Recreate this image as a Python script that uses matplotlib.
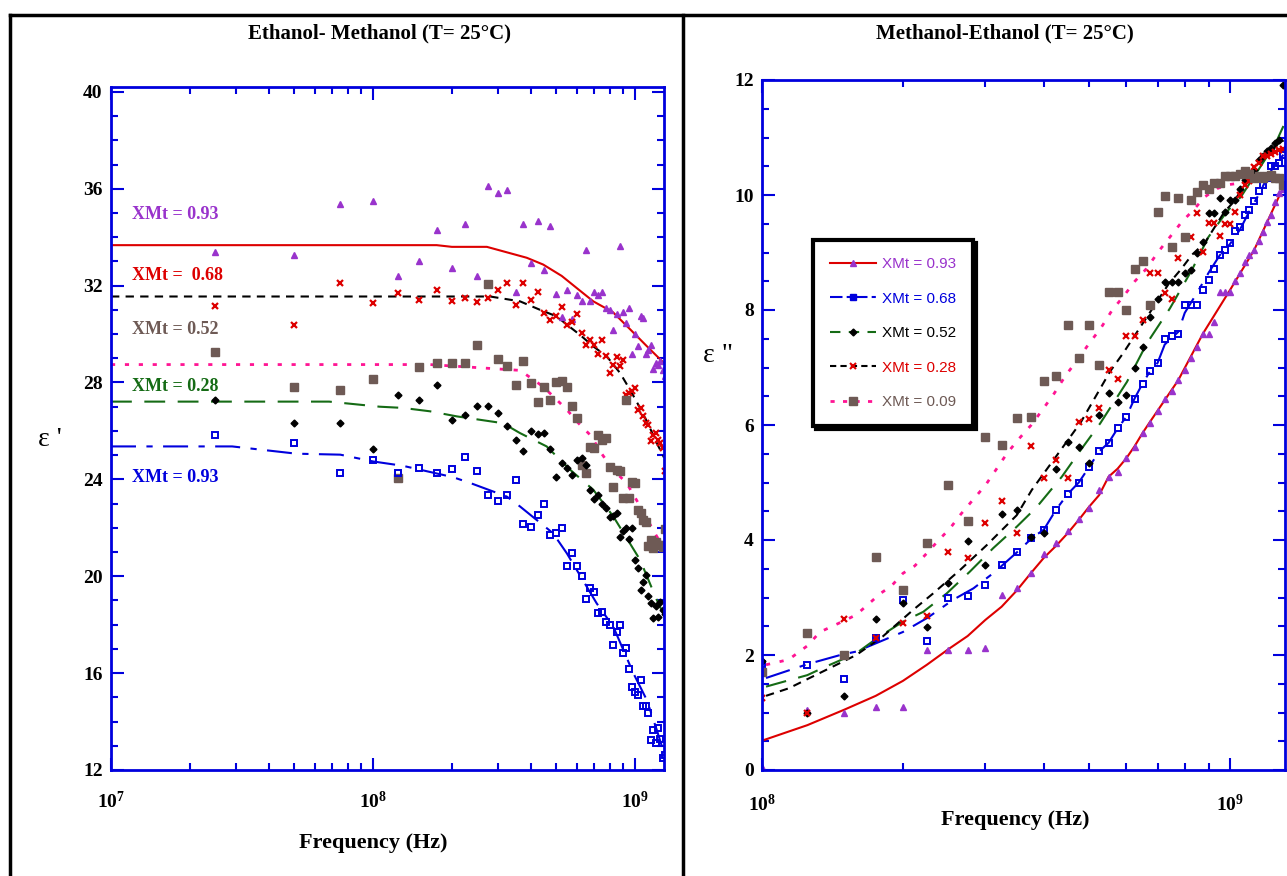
import matplotlib
matplotlib.use('Agg')
import matplotlib.pyplot as plt
import numpy as np
from matplotlib.lines import Line2D
from matplotlib.ticker import LogLocator, MultipleLocator, NullFormatter

plt.rcParams['font.family'] = ['Liberation Serif', 'DejaVu Serif']
plt.rcParams['mathtext.fontset'] = 'custom'
plt.rcParams['mathtext.rm'] = 'Liberation Serif:bold'
plt.rcParams['mathtext.bf'] = 'Liberation Serif:bold'
plt.rcParams['mathtext.default'] = 'bf'

# ---------------- dados: painel da esquerda (eps') ----------------
freq_esq = [25, 50, 75, 100, 125, 150, 175, 200, 225, 250, 275, 300, 325, 350, 375, 400,
            425, 450, 475, 500, 525, 550, 575, 600, 625, 650, 675, 700, 725, 750, 775, 800,
            825, 850, 875, 900, 925, 950, 975, 1000, 1025, 1050, 1075, 1100, 1125, 1150,
            1175, 1200, 1225, 1250, 1275, 1300]  # MHz

esq_093 = [33.39, 33.28, 35.38, 35.48, 32.38, 33.0, 34.29, 32.73, 34.56, 32.38, 36.1, 35.83,
           35.93, 31.74, 34.56, 32.94, 34.66, 32.63, 34.48, 31.65, 30.7, 31.82, 30.62, 31.63,
           31.37, 33.46, 31.37, 31.74, 31.63, 31.74, 31.06, 31.0, 30.18, 30.81, 33.65, 30.91,
           30.46, 31.09, 29.18, 30.0, 29.49, 30.76, 30.65, 29.18, 29.36, 29.53, 28.56, 28.8,
           28.74, 28.87, 28.5, 28.25]
esq_068 = [31.17, 30.36, 32.11, 31.28, 31.7, 31.39, 31.83, 31.38, 31.49, 31.31, 31.49, 31.83,
           32.11, 31.21, 32.11, 31.39, 31.74, 30.87, 30.57, 30.76, 31.1, 30.39, 30.48, 30.83,
           30.04, 29.56, 29.77, 29.56, 29.19, 29.77, 29.1, 28.39, 28.74, 29.06, 28.67, 28.92,
           27.5, 27.57, 27.64, 27.77, 26.88, 26.95, 26.6, 26.32, 26.26, 25.57, 25.84, 25.91,
           25.64, 25.52, 25.3, 24.36]
esq_052 = [29.24, 27.81, 27.70, 28.16, 24.07, 28.64, 28.8, 28.8, 28.8, 29.53, 32.08, 28.99,
           28.70, 27.89, 28.90, 27.98, 27.18, 27.81, 27.26, 28.0, 28.07, 27.81, 27.01, 26.53,
           24.6, 24.26, 25.35, 25.29, 25.84, 25.64, 25.7, 24.5, 23.68, 24.40, 24.33, 23.25,
           27.29, 23.25, 23.91, 23.87, 22.74, 22.63, 22.33, 22.26, 21.23, 21.5, 21.15, 21.42,
           21.3, 21.3, 21.2, 21.94]
esq_028 = [27.29, 26.32, 26.32, 25.26, 27.5, 27.26, 27.91, 26.46, 26.67, 27.01, 27.01, 26.74,
           26.19, 25.64, 25.19, 25.98, 25.88, 25.91, 25.25, 24.10, 24.67, 24.46, 24.19, 24.81,
           24.9, 24.60, 23.57, 23.19, 23.36, 23.0, 22.81, 22.44, 22.5, 22.63, 21.64, 21.88,
           22.01, 21.53, 22.01, 20.68, 20.33, 19.44, 19.78, 20.06, 19.2, 18.9, 18.27, 18.78,
           18.31, 18.95, 18.6, 18.45]
esq_009 = [25.84, 25.5, 24.26, 24.81, 24.26, 24.46, 24.26, 24.42, 24.92, 24.36, 23.36, 23.09,
           23.36, 23.98, 22.15, 22.05, 22.54, 22.99, 21.71, 21.78, 21.98, 20.43, 20.95, 20.43,
           20.0, 19.07, 19.51, 19.33, 18.47, 18.54, 18.12, 17.99, 17.17, 17.71, 17.99, 16.85,
           17.02, 16.16, 15.44, 15.23, 15.10, 15.72, 14.64, 14.64, 14.34, 13.24, 13.65, 13.13,
           13.72, 13.3, 12.48, 12.62]

# curvas ajustadas (MHz, valor)
aj_esq_093_f = [10, 175, 200, 272, 386, 446, 525, 599, 693, 824, 957, 1109, 1290]
aj_esq_093_v = [33.67, 33.67, 33.6, 33.6, 33.15, 32.87, 32.4, 31.9, 31.35, 30.9, 30.2, 29.5, 28.8]
aj_esq_068_f = [10, 280, 364, 434, 502, 549, 616, 693, 780, 877, 957, 1045, 1125, 1211, 1290]
aj_esq_068_v = [31.55, 31.55, 31.35, 31.0, 30.73, 30.39, 29.97, 29.49, 29.08, 28.39, 27.7,
                26.95, 26.26, 25.5, 24.9]
aj_esq_052_f = [10, 165, 364, 446, 549, 606, 679, 746, 824, 929, 1015, 1211, 1290]
aj_esq_052_v = [28.74, 28.74, 28.5, 27.83, 26.88, 26.34, 25.8, 25.06, 24.4, 23.85, 23.13, 21.64, 21.2]
aj_esq_028_f = [10, 68, 106, 130, 165, 209, 256, 313, 364, 460, 565, 693, 826, 1045, 1211, 1290]
aj_esq_028_v = [27.21, 27.21, 27.0, 26.95, 26.81, 26.6, 26.46, 26.32, 25.91, 25.36, 24.4,
                23.57, 22.47, 20.68, 19.02, 18.4]
aj_esq_009_f = [10, 29, 51, 75, 100, 130, 202, 235, 324, 364, 486, 549, 714, 826, 986, 1109,
                1211, 1290]
aj_esq_009_v = [25.36, 25.36, 25.06, 25.02, 24.74, 24.56, 24.09, 23.85, 23.29, 22.88, 21.78,
                20.95, 18.88, 17.92, 15.99, 14.89, 13.65, 12.7]

# ---------------- dados: painel da direita (eps'') ----------------
freq_dir = [100, 125, 150, 175, 200, 225, 250, 275, 300, 325, 350, 375, 400, 425, 450, 475,
            500, 525, 550, 575, 600, 625, 650, 675, 700, 725, 750, 775, 800, 825, 850, 875,
            900, 925, 950, 975, 1000, 1025, 1050, 1075, 1100, 1125, 1150, 1175, 1200, 1225,
            1250, 1275, 1300]  # MHz

dir_093 = [0.06, 1.04, 1.0, 1.09, 1.09, 2.09, 2.09, 2.09, 2.13, 3.04, 3.16, 3.43, 3.75, 3.95,
           4.15, 4.37, 4.56, 4.87, 5.10, 5.19, 5.42, 5.61, 5.86, 6.03, 6.25, 6.45, 6.6, 6.78,
           6.96, 7.16, 7.35, 7.59, 7.59, 7.8, 8.32, 8.32, 8.32, 8.5, 8.64, 8.84, 8.95, 9.04,
           9.2, 9.36, 9.53, 9.65, 9.87, 10.03, 10.1]
dir_068 = [1.85, 1.83, 1.59, 2.29, 2.96, 2.25, 2.99, 3.03, 3.22, 3.57, 3.80, 4.04, 4.18, 4.53,
           4.80, 5.0, 5.27, 5.54, 5.69, 5.94, 6.14, 6.46, 6.72, 6.94, 7.08, 7.49, 7.54, 7.59,
           8.09, 8.09, 8.09, 8.35, 8.52, 8.71, 8.96, 9.04, 9.17, 9.37, 9.45, 9.65, 9.74, 9.90,
           10.07, 10.17, 10.3, 10.50, 10.5, 10.56, 10.7]
dir_052 = [1.9, 1.0, 1.29, 2.63, 2.91, 2.48, 3.25, 3.99, 3.57, 4.45, 4.52, 4.05, 4.12, 5.23,
           5.71, 5.62, 5.34, 6.17, 6.55, 6.4, 6.52, 7.0, 7.36, 7.87, 8.2, 8.49, 8.48, 8.49,
           8.64, 8.70, 9.0, 9.19, 9.68, 9.68, 9.95, 9.71, 9.91, 9.92, 10.1, 10.26, 10.35, 10.43,
           10.61, 10.67, 10.77, 10.81, 10.90, 10.95, 11.92]
dir_028 = [1.25, 1.0, 2.62, 2.29, 2.55, 2.67, 3.80, 3.68, 4.30, 4.68, 4.12, 5.63, 5.07, 5.39,
           5.07, 6.06, 6.1, 6.3, 6.95, 6.8, 7.55, 7.55, 7.83, 8.64, 8.64, 8.3, 8.2, 8.9, 9.27,
           9.27, 9.68, 9.01, 9.52, 9.52, 9.29, 9.49, 9.49, 9.71, 10.0, 10.17, 10.25, 10.49,
           10.55, 10.67, 10.67, 10.72, 10.75, 10.78, 10.8]
dir_009 = [1.70, 2.39, 2.0, 3.71, 3.13, 3.94, 4.95, 4.33, 5.80, 5.65, 6.12, 6.14, 6.77, 6.85,
           7.74, 7.16, 7.74, 7.04, 8.32, 8.32, 8.0, 8.71, 8.86, 8.09, 9.71, 9.98, 9.09, 9.94,
           9.27, 9.91, 10.06, 10.17, 10.10, 10.21, 10.21, 10.33, 10.33, 10.33, 10.37, 10.42,
           10.37, 10.29, 10.33, 10.29, 10.33, 10.35, 10.29, 10.29, 10.17]

aj_dir_093_f = [100, 125, 150, 175, 200, 225, 250, 275, 300, 325, 350, 375, 400, 425, 450, 475,
                500, 525, 550, 575, 600, 625, 650, 675, 775, 875, 1000, 1125, 1300]
aj_dir_093_v = [0.51, 0.78, 1.05, 1.29, 1.55, 1.83, 2.10, 2.33, 2.61, 2.84, 3.12, 3.42, 3.69,
                3.90, 4.12, 4.35, 4.58, 4.78, 5.10, 5.24, 5.42, 5.63, 5.86, 6.06, 6.78, 7.59,
                8.35, 9.04, 10.14]
aj_dir_068_f = [102, 125, 147, 159, 200, 226, 256, 283, 315, 352, 378, 400, 425, 450, 475, 500,
                525, 550, 575, 600, 625, 650, 675, 700, 725, 775, 800, 850, 900, 950, 1000,
                1050, 1100, 1150, 1200, 1250, 1300]
aj_dir_068_v = [1.6, 1.84, 2.0, 2.06, 2.40, 2.65, 2.96, 3.16, 3.45, 3.80, 4.04, 4.18, 4.53,
                4.80, 5.0, 5.27, 5.54, 5.69, 5.94, 6.14, 6.46, 6.72, 6.94, 7.08, 7.4, 7.62, 7.95,
                8.3, 8.65, 8.95, 9.15, 9.4, 9.72, 10.0, 10.3, 10.55, 10.7]
aj_dir_052_f = [102, 125, 137, 152, 159, 176, 200, 221, 248, 278, 312, 350, 386, 437, 482,
                528, 602, 664, 744, 829, 899, 984, 1055, 1251, 1300]
aj_dir_052_v = [1.45, 1.65, 1.80, 1.96, 2.03, 2.29, 2.58, 2.75, 3.07, 3.45, 3.86, 4.23, 4.57,
                5.10, 5.59, 6.03, 6.75, 7.42, 8.03, 8.70, 9.27, 9.71, 9.97, 10.9, 11.2]
aj_dir_028_f = [102, 114, 137, 159, 181, 210, 232, 265, 302, 350, 377, 422, 480, 554, 591,
                740, 784, 829, 883, 973, 1018, 1067, 1128, 1190, 1232, 1300]
aj_dir_028_v = [1.29, 1.42, 1.74, 2.0, 2.32, 2.78, 3.07, 3.48, 3.91, 4.43, 4.87, 5.42, 6.05,
                6.93, 7.25, 8.46, 8.70, 8.96, 9.17, 9.71, 9.88, 10.14, 10.49, 10.70, 10.8, 10.95]
aj_dir_009_f = [102, 114, 125, 133, 152, 159, 168, 179, 189, 200, 212, 225, 238, 252, 266, 283,
                300, 316, 334, 353, 376, 397, 421, 446, 473, 500, 529, 560, 591, 626, 663, 702,
                744, 788, 835, 884, 937, 991, 1300]
aj_dir_009_v = [1.83, 1.92, 2.16, 2.4, 2.62, 2.70, 2.87, 3.07, 3.20, 3.42, 3.55, 3.77, 3.99,
                4.20, 4.45, 4.71, 4.95, 5.22, 5.51, 5.75, 6.0, 6.26, 6.55, 6.87, 7.14, 7.42,
                7.68, 8.0, 8.23, 8.50, 8.72, 9.01, 9.27, 9.53, 9.74, 9.97, 10.11, 10.18, 10.3]

# cores
roxo = '#9933CC'
vermelho = '#DD0000'
marrom = '#6E5A55'
verde = '#156B15'
azul = '#0000DD'
rosa = '#FF1493'
preto = 'black'


def hz(lista):
    return np.array(lista) * 1e6


def estilo(ax, xlim, ylim, ymaior, ymenor, pad_x, decadas):
    ax.set_xscale('log')
    ax.set_xlim(*xlim)
    ax.set_ylim(*ylim)
    for s in ax.spines.values():
        s.set_color(azul)
        s.set_linewidth(2)
    ax.tick_params(which='both', direction='in', color=azul, top=True, right=True, width=1.5)
    ax.tick_params(which='major', length=9, labelsize=14)
    ax.tick_params(which='minor', length=5)
    ax.tick_params(axis='x', which='major', pad=pad_x)
    ax.tick_params(axis='y', which='major', pad=6)
    ax.yaxis.set_major_locator(MultipleLocator(ymaior))
    ax.yaxis.set_minor_locator(MultipleLocator(ymenor))
    ax.set_xticks([10.0 ** d for d in decadas],
                  labels=[r'$\mathbf{10^{%d}}$' % d for d in decadas])
    ax.xaxis.set_minor_locator(LogLocator(base=10, subs=np.arange(2, 10)))
    ax.xaxis.set_minor_formatter(NullFormatter())
    for t in ax.get_yticklabels():
        t.set_fontweight('bold')


fig = plt.figure(figsize=(12.87, 8.76), dpi=100)

# moldura externa
for (x0, y0, x1, y1) in [(10, 15, 1287, 15), (10, 15, 10, 876), (683, 15, 683, 876)]:
    fig.add_artist(Line2D([x0 / 1287, x1 / 1287], [1 - y0 / 876, 1 - y1 / 876],
                          color='black', lw=2.5))

# ---------------- painel esquerdo ----------------
ax1 = fig.add_axes([111 / 1287, 1 - 770 / 876, 553 / 1287, 683 / 876])

ax1.plot(hz(aj_esq_093_f), aj_esq_093_v, color=vermelho, lw=1.5, ls='-')
ax1.plot(hz(aj_esq_068_f), aj_esq_068_v, color=preto, lw=1.5, ls=(0, (4, 3)))
ax1.plot(hz(aj_esq_052_f), aj_esq_052_v, color=rosa, lw=2, ls=(0, (1.5, 3.5)))
ax1.plot(hz(aj_esq_028_f), aj_esq_028_v, color=verde, lw=1.5, ls=(0, (10, 6)))
ax1.plot(hz(aj_esq_009_f), aj_esq_009_v, color=azul, lw=1.5, ls=(0, (12, 5, 3, 5)))

ax1.plot(hz(freq_esq), esq_093, ls='none', marker='^', ms=5, color=roxo)
ax1.plot(hz(freq_esq), esq_068, ls='none', marker='x', ms=5, mew=1.6, color=vermelho)
ax1.plot(hz(freq_esq), esq_052, ls='none', marker='s', ms=6, color=marrom)
ax1.plot(hz(freq_esq), esq_028, ls='none', marker='D', ms=3.5, color=preto)
ax1.plot(hz(freq_esq), esq_009, ls='none', marker='s', ms=5, mfc='none', mew=1.4, color=azul)

estilo(ax1, (1e7, 1.29e9), (12, 40.2), 4, 1, 15, [7, 8, 9])

rotulos = [('XMt = 0.93', 34.93, roxo), ('XMt =  0.68', 32.41, vermelho),
           ('XMt = 0.52', 30.18, marrom), ('XMt = 0.28', 27.83, verde),
           ('XMt = 0.93', 24.07, azul)]
for texto, yv, cor in rotulos:
    ax1.text(1.2e7, yv, texto, color=cor, fontsize=13, fontweight='bold', ha='left', va='center')

# ---------------- painel direito ----------------
ax2 = fig.add_axes([762 / 1287, 1 - 770 / 876, 523 / 1287, 690 / 876])

ax2.plot(hz(aj_dir_093_f), aj_dir_093_v, color=vermelho, lw=1.5, ls='-')
ax2.plot(hz(aj_dir_068_f), aj_dir_068_v, color=azul, lw=1.5, ls=(0, (12, 5, 3, 5)))
ax2.plot(hz(aj_dir_052_f), aj_dir_052_v, color=verde, lw=1.5, ls=(0, (10, 6)))
ax2.plot(hz(aj_dir_028_f), aj_dir_028_v, color=preto, lw=1.5, ls=(0, (4, 3)))
ax2.plot(hz(aj_dir_009_f), aj_dir_009_v, color=rosa, lw=2, ls=(0, (1.5, 3.5)))

ax2.plot(hz(freq_dir), dir_093, ls='none', marker='^', ms=5, color=roxo)
ax2.plot(hz(freq_dir), dir_068, ls='none', marker='s', ms=5, mfc='none', mew=1.4, color=azul)
ax2.plot(hz(freq_dir), dir_052, ls='none', marker='D', ms=3.5, color=preto)
ax2.plot(hz(freq_dir), dir_028, ls='none', marker='x', ms=5, mew=1.6, color=vermelho)
ax2.plot(hz(freq_dir), dir_009, ls='none', marker='s', ms=6, color=marrom)

estilo(ax2, (1e8, 1.31e9), (0, 12), 2, 0.5, 17, [8, 9])

alcas = [
    Line2D([], [], color=vermelho, lw=1.5, marker='^', ms=5, mfc=roxo, mec=roxo),
    Line2D([], [], color=azul, lw=1.5, ls=(0, (6, 2, 2, 2)), marker='s', ms=5, mfc=azul, mec=azul),
    Line2D([], [], color=verde, lw=1.5, ls=(0, (5, 4)), marker='D', ms=3.5, mfc=preto, mec=preto),
    Line2D([], [], color=preto, lw=1.5, ls=(0, (3, 2)), marker='x', ms=5, mew=1.5, mec=vermelho),
    Line2D([], [], color=rosa, lw=2, ls=(0, (1.5, 3)), marker='s', ms=6, mfc=marrom, mec=marrom),
]
nomes = ['XMt = 0.93', 'XMt = 0.68', 'XMt = 0.52', 'XMt = 0.28', 'XMt = 0.09']
cores_txt = [roxo, azul, preto, vermelho, marrom]
leg = ax2.legend(alcas, nomes, loc='upper left', bbox_to_anchor=(0.098, 0.768),
                 borderaxespad=0, numpoints=1, handlelength=3.0, handletextpad=0.4,
                 labelspacing=1.35, borderpad=1.1,
                 fancybox=False, edgecolor='black', framealpha=1,
                 shadow={'color': 'black', 'alpha': 1},
                 prop={'family': ['Liberation Sans Narrow', 'Liberation Sans'], 'size': 11})
leg.get_frame().set_linewidth(3)
for t, c in zip(leg.get_texts(), cores_txt):
    t.set_color(c)

# textos da figura
fig.text(380 / 1287, 1 - 33 / 876, 'Ethanol- Methanol (T= 25°C)', ha='center', va='center',
         fontsize=15, fontweight='bold')
fig.text(1005 / 1287, 1 - 33 / 876, 'Methanol-Ethanol (T= 25°C)', ha='center', va='center',
         fontsize=15, fontweight='bold')
fig.text(373 / 1287, 1 - 843 / 876, 'Frequency (Hz)', ha='center', va='center',
         fontsize=16, fontweight='bold')
fig.text(1015 / 1287, 1 - 820 / 876, 'Frequency (Hz)', ha='center', va='center',
         fontsize=16, fontweight='bold')
fig.text(50 / 1287, 1 - 440 / 876, "ε '", ha='center', va='center', fontsize=20)
fig.text(718 / 1287, 1 - 355 / 876, 'ε "', ha='center', va='center', fontsize=20)

fig.savefig('out.png', dpi=100)
